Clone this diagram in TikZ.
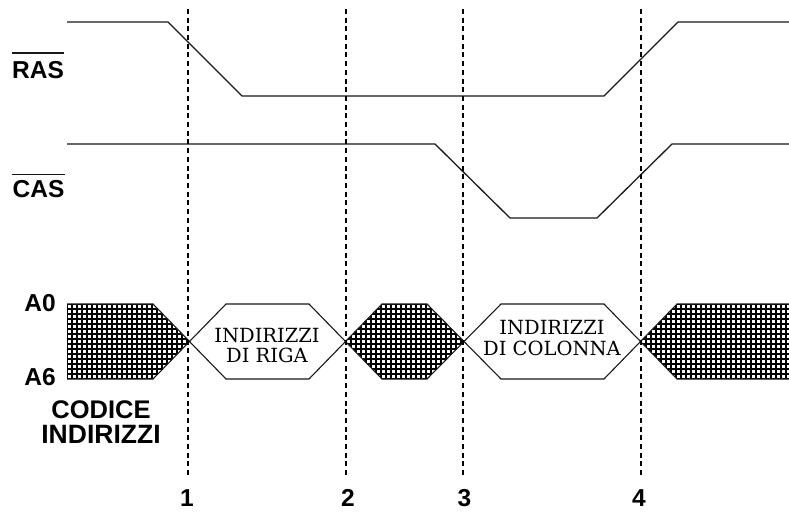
\documentclass[tikz,border=0pt]{standalone}
\usepackage{fontspec}
\setmainfont{Liberation Sans}
\newfontfamily\slabfont{DejaVu Serif}

\begin{document}
\begin{tikzpicture}[x=1pt,y=-1pt,line join=miter]
    \tikzstyle{signal}=[draw=black!90,line width=1.3pt]
    \tikzstyle{cursor}=[draw=black,line width=1.2pt,dash pattern=on 5pt off 3.7pt]
    \tikzstyle{bus}=[draw=black!90,line width=1.1pt]
    \tikzstyle{tag}=[font=\bfseries\fontsize{24.5}{24}\selectfont,inner sep=0pt]
    \tikzstyle{mesh}=[draw=black,line width=1.9pt]
    \tikzstyle{annot}=[font=\slabfont\fontsize{19.5}{20.5}\selectfont,align=center,inner sep=0pt]

    \useasboundingbox (0,0) rectangle (789,513);

    % Draw the RAS and CAS lines
    \draw[signal] (67,22) -- (168,22) -- (242,96) -- (604,96) -- (678,22) -- (789,22);
    \draw[signal] (67,144) -- (435,144) -- (510,218) -- (597,218) -- (672,144) -- (789,144);

    % Fill the crossed parts of the bus
    \begin{scope}
        \clip (67,304) -- (153,304) -- (189,341.5) -- (153,379) -- (67,379) -- cycle;
        \draw[mesh,xshift=67pt,yshift=-304pt] (0,0) grid[step=5pt] (125,76);
    \end{scope}
    \begin{scope}
        \clip (346,341.5) -- (382,304) -- (427,304) -- (464,341.5) -- (427,379) -- (382,379) -- cycle;
        \draw[mesh,xshift=346pt,yshift=-304pt] (0,0) grid[step=5pt] (120,76);
    \end{scope}
    \begin{scope}
        \clip (641,341.5) -- (677,304) -- (789,304) -- (789,379) -- (677,379) -- cycle;
        \draw[mesh,xshift=641pt,yshift=-304pt] (0,0) grid[step=5pt] (150,76);
    \end{scope}

    % Draw the outline of the bus
    \draw[bus] (67,304) -- (153,304) -- (226,379) -- (309,379) -- (382,304) -- (427,304) -- (501,379) -- (604,379) -- (677,304) -- (789,304);
    \draw[bus] (67,379) -- (153,379) -- (226,304) -- (309,304) -- (382,379) -- (427,379) -- (501,304) -- (604,304) -- (677,379) -- (789,379);

    % Draw the vertical lines with their numbers
    \foreach \name / \x / \lx in {1/188/187,2/346/348,3/463/464.5,4/641/639} {
        \coordinate (top-\name) at (\x,9);
        \coordinate (bot-\name) at (\x,476);
        \draw[cursor] (top-\name) -- (bot-\name);
        \node[tag] (num-\name) at (\lx,498) {\name};
    }

    % Annotate the signals
    \node[tag] (ras) at (38,70) {RAS};
    \node[tag] (cas) at (38.5,189.5) {CAS};
    \draw[signal] ([yshift=8pt]ras.north west) -- ([yshift=8pt]ras.north east);
    \draw[signal] ([yshift=6pt]cas.north west) -- ([yshift=6pt]cas.north east);
    \node[tag] (a0) at (40,303.5) {A0};
    \node[tag] (a6) at (40,377) {A6};
    \node[tag,font=\bfseries\fontsize{25.5}{24}\selectfont] (code-1) at (101,409.5) {CODICE};
    \node[tag,font=\bfseries\fontsize{26.5}{24}\selectfont] (code-2) at (101,434) {INDIRIZZI};
    \node[annot] (row) at (267,345.5) {INDIRIZZI\\DI RIGA};
    \node[annot] (col) at (552,338) {INDIRIZZI\\DI COLONNA};
\end{tikzpicture}
\end{document}
